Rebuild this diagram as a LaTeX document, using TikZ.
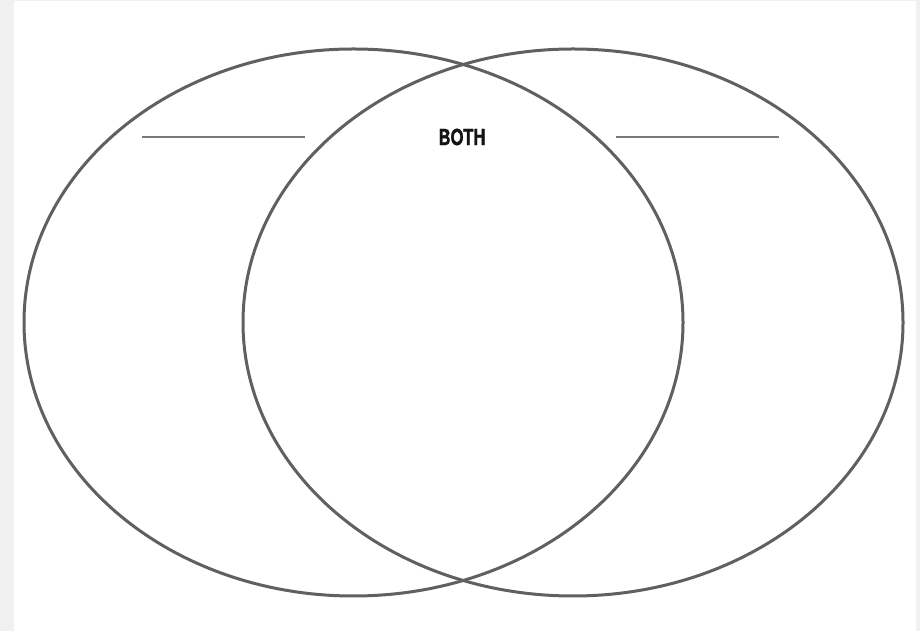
\documentclass[tikz,border=0pt]{standalone}
\usepackage{fontspec}
\setmainfont{TeX Gyre Heros}
\newfontfamily\headfont[FakeBold=1.6]{TeX Gyre Heros}
\definecolor{bggray}{HTML}{F1F1F1}
\definecolor{ringgray}{HTML}{606060}
\definecolor{linegray}{HTML}{7A7A7A}
\begin{document}
\begin{tikzpicture}[x=1pt,y=1pt,
  ring/.style={draw=ringgray,line width=3pt},
  blank/.style={draw=linegray,line width=2pt},
  title/.style={font=\headfont\fontsize{22}{24}\selectfont\bfseries,text=black!92,inner sep=0pt}]
\useasboundingbox (0,0) rectangle (920,631);
\fill[bggray] (0,0) rectangle (920,631);
\fill[white] (14,0) rectangle (916,630);
\draw[ring] (353.5,308.5) ellipse [x radius=329.5, y radius=273.5];
\draw[ring] (573,308.5) ellipse [x radius=330, y radius=273.5];
\coordinate (l1) at (142,494);
\coordinate (l2) at (305,494);
\coordinate (r1) at (616,494);
\coordinate (r2) at (779,494);
\draw[blank] (l1) -- (l2);
\draw[blank] (r1) -- (r2);
\node[title] (both) at (462,494) {\scalebox{0.76}[1]{BOTH}};
\end{tikzpicture}
\end{document}
